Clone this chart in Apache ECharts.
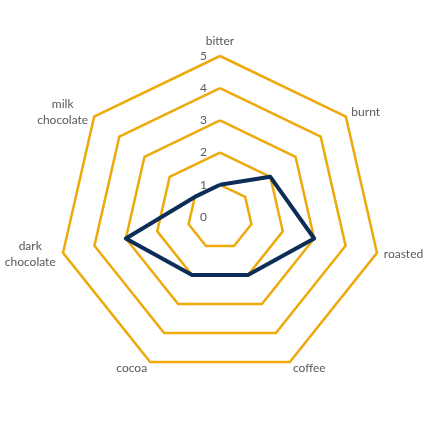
<!DOCTYPE html>
<html>
<head>
<meta charset="utf-8">
<script src="https://cdn.jsdelivr.net/npm/echarts@6/dist/echarts.min.js"></script>
<style>html,body{margin:0;padding:0;background:#fff}#c{width:430px;height:430px}</style>
</head>
<body>
<div id="c"></div>
<script>
var categories = ['bitter', 'burnt', 'roasted', 'coffee', 'cocoa', 'dark\nchocolate', 'milk\nchocolate'];
var values = [1, 2, 3, 2, 2, 3, 1];
var axisMin = 0, axisMax = 5;

// ECharts lays radar axes counter-clockwise; reorder so categories run clockwise
var order = [0];
for (var k = categories.length - 1; k > 0; k--) order.push(k);

var chart = echarts.init(document.getElementById('c'));
chart.setOption({
  animation: false,
  radar: {
    center: [220, 217],
    radius: 161,
    startAngle: 90,
    shape: 'polygon',
    splitNumber: 5,
    nameGap: 7,
    axisName: {
      color: '#595959', fontSize: 12, fontFamily: 'Lato', lineHeight: 16,
      formatter: function (name) {
        if (name.indexOf('\n') < 0) return name;
        return name.split('\n').map(function (s) { return '{c|' + s + '}'; }).join('\n');
      },
      rich: { c: { width: 52, align: 'center', color: '#595959', fontSize: 12, fontFamily: 'Lato', lineHeight: 16 } }
    },
    axisLine: { show: false },
    axisTick: { show: false },
    axisLabel: { show: false },
    splitArea: { show: false },
    splitLine: { lineStyle: { color: '#EEA90B', width: 2.5 } },
    indicator: order.map(function (i) {
      var o = { name: categories[i], min: axisMin, max: axisMax };
      if (i === 0) o.axisLabel = { show: true, color: '#595959', fontSize: 12, fontFamily: 'Lato', margin: 13 };
      return o;
    })
  },
  series: [{
    type: 'radar',
    symbol: 'none',
    lineStyle: { color: '#0B2D57', width: 4 },
    data: [{ value: order.map(function (i) { return values[i]; }) }]
  }]
});
</script>
</body>
</html>
